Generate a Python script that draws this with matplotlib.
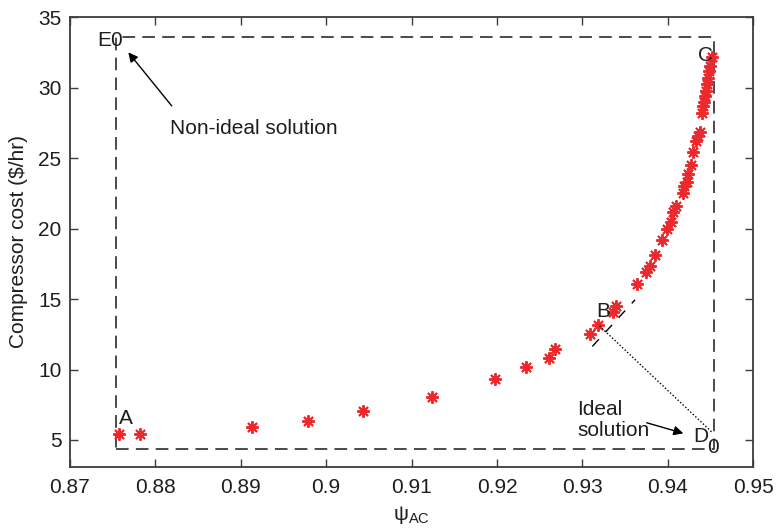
import matplotlib.pyplot as plt

plt.rcParams['font.family'] = ['Liberation Sans', 'DejaVu Sans']
plt.rcParams['font.size'] = 15

# pareto front points (psi_AC, compressor cost)
psi = [0.87581, 0.87826, 0.89130, 0.89792, 0.90429, 0.91236, 0.91981, 0.92340,
       0.92609, 0.92679, 0.93089, 0.93179, 0.93362, 0.93393, 0.93642, 0.93741,
       0.93791, 0.93850, 0.93932, 0.93986, 0.94040, 0.94064, 0.94092, 0.94174,
       0.94189, 0.94220, 0.94232, 0.94267, 0.94298, 0.94329, 0.94349, 0.94376,
       0.94400, 0.94415, 0.94423, 0.94435, 0.94446, 0.94462, 0.94473, 0.94485,
       0.94493, 0.94513]
cost = [5.42, 5.42, 5.89, 6.32, 7.06, 8.05, 9.32, 10.21,
        10.82, 11.46, 12.51, 13.15, 14.08, 14.51, 16.04, 16.92,
        17.32, 18.10, 19.18, 19.95, 20.44, 21.15, 21.62, 22.56,
        23.03, 23.31, 23.89, 24.53, 25.42, 26.25, 26.55, 26.88,
        28.19, 28.71, 28.99, 29.42, 29.77, 30.23, 30.70, 31.18,
        31.57, 32.18]

# bounding box of the front
box_x = [0.87538, 0.9454]
box_y = [4.35, 33.6]
xticks = [0.87, 0.88, 0.89, 0.9, 0.91, 0.92, 0.93, 0.94, 0.95]
xticklabels = ['0.87', '0.88', '0.89', '0.9', '0.91', '0.92', '0.93', '0.94', '0.95']
yticks = [5, 10, 15, 20, 25, 30, 35]

fig = plt.figure(figsize=(7.76, 5.30), dpi=100)
ax = fig.add_axes([0.0898, 0.1194, 0.881, 0.848])

gray = '#3c3c3c'
ink = '#1e1e1e'
ax.plot([box_x[0], box_x[1], box_x[1], box_x[0], box_x[0]],
        [box_y[0], box_y[0], box_y[1], box_y[1], box_y[0]],
        ls=(0, (7, 4)), color=gray, lw=1.3)

ax.plot(psi, cost, ls='none', marker=(8, 2, 0), ms=9, mew=1.4,
        color='#ec2a2e')

# tangent at B and distance to the ideal point
ax.plot([0.93116, 0.93616], [11.64, 14.95], ls=(0, (7, 7)), color='black', lw=1)
ax.plot([0.93199, 0.94514], [13.10, 5.56], ls=(0, (1, 1.5)), color='black', lw=1)

ax.text(0.87472, 33.38, 'E0', ha='center', va='center', color=ink)
ax.text(0.94436, 32.32, 'C', ha='center', va='center', color=ink)
ax.text(0.93241, 14.15, 'B', ha='center', va='center', color=ink)
ax.text(0.87659, 6.55, 'A', ha='center', va='center', color=ink)
ax.text(0.94390, 5.25, 'D', ha='center', va='center', color=ink)
ax.text(0.94530, 4.45, '0', ha='center', va='center', color=ink)

ax.annotate('', xy=(0.87686, 32.51), xytext=(0.88194, 28.71),
            arrowprops=dict(arrowstyle='-|>', color='black', lw=1,
                            mutation_scale=14, shrinkA=0, shrinkB=0))
ax.text(0.88174, 27.11, 'Non-ideal solution', ha='left', va='center',
        color=ink)
ax.annotate('', xy=(0.94181, 5.47), xytext=(0.93752, 6.22),
            arrowprops=dict(arrowstyle='-|>', color='black', lw=1,
                            mutation_scale=14, shrinkA=0, shrinkB=0))
ax.text(0.92937, 6.41, 'Ideal\nsolution', ha='left', va='center',
        color=ink, linespacing=1.1)

ax.set_xlim(0.87, 0.95)
ax.set_ylim(3.1, 35)
ax.set_xticks(xticks)
ax.set_xticklabels(xticklabels)
ax.set_yticks(yticks)
ax.tick_params(direction='in', length=6, width=1, color=gray, top=True,
               right=True, labelcolor=ink)
ax.tick_params(axis='x', pad=8)
ax.tick_params(axis='y', pad=6)
for sp in ax.spines.values():
    sp.set_color(gray)
    sp.set_linewidth(1.3)

ax.set_xlabel('ψ$_\\mathregular{AC}$', color=ink, labelpad=5)
ax.set_ylabel('Compressor cost (\\$/hr)', color=ink, labelpad=7)

fig.savefig('out.png', dpi=100)
